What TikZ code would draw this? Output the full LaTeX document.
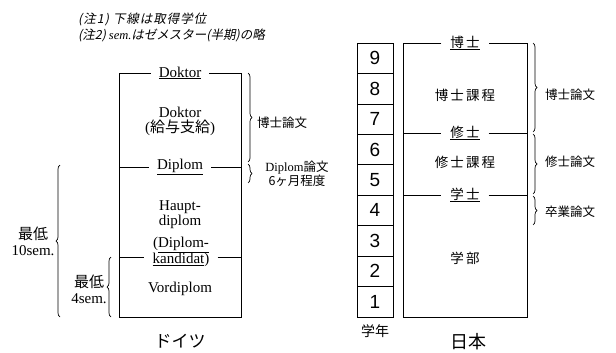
\documentclass[tikz,border=0pt]{standalone}
\usepackage{fontspec}
\setmainfont{Liberation Serif}
\newfontfamily\jp{Noto Sans CJK JP}
\newfontfamily\jpsp[LetterSpace=15]{Noto Sans CJK JP}
\newfontfamily\jpit[FakeSlant=0.2]{Noto Sans CJK JP}
\newfontfamily\jpitsp[FakeSlant=0.2,LetterSpace=8]{Noto Sans CJK JP}
\newfontfamily\numf{Liberation Sans}
\usetikzlibrary{decorations.pathreplacing}
\begin{document}
\begin{tikzpicture}[x=1pt,y=-1pt,
  ln/.style={line width=0.8pt},
  de/.style={font=\fontsize{15}{15}\selectfont, align=center, inner sep=0pt},
  hdr/.style={de, inner xsep=8pt},
  jb/.style={font=\jpsp\fontsize{13.5}{16}\selectfont, align=center, inner sep=0pt},
  jh/.style={jb, inner xsep=9pt},
  jr/.style={font=\jp\fontsize{12.5}{14}\selectfont, align=center, inner sep=0pt},
  yr/.style={draw, line width=0.8pt, minimum width=36pt, minimum height=30.44pt, inner sep=0pt, font=\numf\fontsize{19}{19}\selectfont},
  brc/.style={decorate, decoration={brace, amplitude=4pt}, line width=0.7pt},
  note/.style={anchor=west, inner sep=0pt}
]
\useasboundingbox (0,0) rectangle (616,353);

% notes
\node[note, font=\jpitsp\fontsize{12.5}{15}\selectfont] (n1) at (78,19) {(注1) 下線は取得学位};
\node[note, font=\jpit\fontsize{12.5}{15}\selectfont] (n2) at (78,35) {(注2) {\rmfamily\itshape sem.}はゼメスター(半期)の略};

% ---------------- Germany ----------------
\coordinate (gtl) at (119,73);
\coordinate (gtr) at (241,73);
\coordinate (gbl) at (119,317);
\coordinate (gbr) at (241,317);
\coordinate (gdl) at (119,167);
\coordinate (gdr) at (241,167);
\coordinate (gkl) at (119,257);
\coordinate (gkr) at (241,257);

\node[hdr] (doktorH) at (180,73) {\underline{Doktor}};
\node[de] (doktorB) at (180,121) {Doktor\\({\jp 給与支給})};
\node[hdr] (diplomH) at (180,167) {\underline{Diplom}};
\node[de] (haupt) at (180,215) {Haupt-\\diplom};
\node[de, font=\fontsize{15}{13}\selectfont, inner xsep=8pt] (kand) at (181,252) {(\underline{Diplom-}\\\underline{kandidat})};
\node[de] (vord) at (180,289) {Vordiplom};

\draw[ln] (doktorH.west) -- (gtl) -- (gbl) -- (gbr) -- (gtr) -- (doktorH.east);
\draw[ln] (gdl) -- (diplomH.west);
\draw[ln] (diplomH.east) -- (gdr);
\draw[ln] (gkl) -- (gkl -| kand.west);
\draw[ln] (gkr -| kand.east) -- (gkr);

% right braces
\coordinate (gb1a) at (248,73);
\coordinate (gb1b) at (248,162);
\coordinate (gb2a) at (248,164);
\coordinate (gb2b) at (248,183);
\draw[brc] (gb1a) -- (gb1b);
\draw[brc] (gb2a) -- (gb2b);
\node[jr] (ghak) at (282,123) {博士論文};
\node[jr] (gdipl) at (297,174) {{\rmfamily Diplom}論文\\6ヶ月程度};

% left braces
\coordinate (gl1a) at (60,317);
\coordinate (gl1b) at (60,165);
\coordinate (gl2a) at (111,317);
\coordinate (gl2b) at (111,257);
\draw[brc] (gl1a) -- (gl1b);
\draw[brc] (gl2a) -- (gl2b);
\node[de, font=\fontsize{15}{16}\selectfont] (g10) at (33,241) {{\jp 最低}\\10sem.};
\node[de, font=\fontsize{15}{16}\selectfont] (g4) at (89,289) {{\jp 最低}\\4sem.};

\node[font=\jp\fontsize{17}{17}\selectfont, inner sep=0pt] (doitsu) at (180,341) {ドイツ};

% ---------------- Japan ----------------
\foreach \i in {1,...,9} {
  \node[yr] (y\i) at (375,{317-15.22-(\i-1)*30.44}) {\i};
}
\node[font=\jp\fontsize{14}{14}\selectfont, inner sep=0pt] (gakunen) at (375,331) {学年};

\coordinate (jtl) at (403,43);
\coordinate (jtr) at (527,43);
\coordinate (jbl) at (403,317);
\coordinate (jbr) at (527,317);
\coordinate (jml) at (403,133);
\coordinate (jmr) at (527,133);
\coordinate (jsl) at (403,195);
\coordinate (jsr) at (527,195);

\node[jh] (hakaseH) at (465,43) {\underline{博士}};
\node[jb] (hakaseK) at (465,95) {博士課程};
\node[jh] (shuushiH) at (465,133) {\underline{修士}};
\node[jb] (shuushiK) at (465,162) {修士課程};
\node[jh] (gakushiH) at (465,195) {\underline{学士}};
\node[jb] (gakubu) at (465,258) {学部};

\draw[ln] (hakaseH.west) -- (jtl) -- (jbl) -- (jbr) -- (jtr) -- (hakaseH.east);
\draw[ln] (jml) -- (shuushiH.west);
\draw[ln] (shuushiH.east) -- (jmr);
\draw[ln] (jsl) -- (gakushiH.west);
\draw[ln] (gakushiH.east) -- (jsr);

\coordinate (jb1a) at (533,43);
\coordinate (jb1b) at (533,132);
\coordinate (jb2a) at (533,134);
\coordinate (jb2b) at (533,194);
\coordinate (jb3a) at (533,196);
\coordinate (jb3b) at (533,225);
\draw[brc] (jb1a) -- (jb1b);
\draw[brc] (jb2a) -- (jb2b);
\draw[brc] (jb3a) -- (jb3b);
\node[jr, anchor=west] (jr1) at (545,95) {博士論文};
\node[jr, anchor=west] (jr2) at (545,162) {修士論文};
\node[jr, anchor=west] (jr3) at (545,212) {卒業論文};

\node[font=\jp\fontsize{18}{18}\selectfont, inner sep=0pt] (nihon) at (468,342) {日本};
\end{tikzpicture}
\end{document}
